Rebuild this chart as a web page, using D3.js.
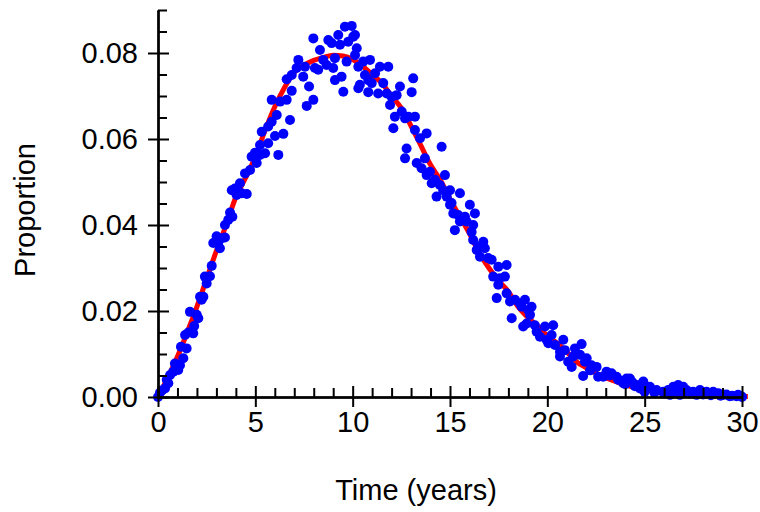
<!DOCTYPE html>
<html>
<head>
<meta charset="utf-8">
<script src="https://cdn.jsdelivr.net/npm/d3@7"></script>
<style>
  body { margin: 0; background: #fff; }
  text { font-family: "Liberation Sans", Arial, sans-serif; }
</style>
</head>
<body>
<div id="chart"></div>
<script>
// Size of the canvas and plot margins.
const WIDTH = 760;
const HEIGHT = 512;
const margin = { top: 10, right: 18, bottom: 115, left: 158 };
const FONT_SIZE = "29px";

// Tick values.
const xMajorTicks = [0, 5, 10, 15, 20, 25, 30];
const yMajorTicks = [0, 0.02, 0.04, 0.06, 0.08];

// Fitted curve: [time, proportion].
const curve = [
  [0, 0], [0.5, 0.0045], [1, 0.0094], [1.5, 0.015], [2, 0.021], [2.5, 0.0275],
  [3, 0.034], [3.5, 0.040], [4, 0.0465], [4.5, 0.051], [5, 0.0559], [5.5, 0.062],
  [6, 0.0675], [6.5, 0.072], [7, 0.0755], [7.5, 0.0772], [8, 0.0783], [8.5, 0.079],
  [9, 0.0795], [9.5, 0.0793], [10, 0.0785], [10.5, 0.077], [11, 0.075], [11.5, 0.073],
  [12, 0.070], [12.5, 0.0672], [13, 0.063], [13.5, 0.0585], [14, 0.054], [14.5, 0.0505],
  [15, 0.046], [15.5, 0.042], [16, 0.038], [16.5, 0.0335], [17, 0.030], [17.5, 0.027],
  [18, 0.0245], [18.5, 0.021], [19, 0.0185], [19.5, 0.0165], [20, 0.0142], [20.5, 0.0125],
  [21, 0.0105], [21.5, 0.0082], [22, 0.0068], [22.5, 0.0055], [23, 0.0045], [23.5, 0.0036],
  [24, 0.0028], [24.5, 0.0022], [25, 0.0017], [26, 0.0010], [27, 0.0006], [28, 0.0003],
  [29, 0.0002], [30, 0.0001], [30.3, 0.0001]
];

// Observed proportions: [time, proportion].
const observed = [
  [0, 0], [0.2, 0.0015],
  [0.10, 0.0010], [0.36, 0.0020], [0.53, 0.0032], [0.45, 0.0040], [0.62, 0.0051],
  [0.79, 0.0059], [1.04, 0.0063], [0.87, 0.0078], [1.13, 0.0074], [1.30, 0.0090],
  [1.18, 0.0117], [1.47, 0.0113], [1.39, 0.0144], [1.56, 0.0150], [1.81, 0.0148],
  [1.86, 0.0165], [1.64, 0.0198], [1.99, 0.0191], [2.07, 0.0183], [2.16, 0.0233],
  [2.33, 0.0233], [2.24, 0.0226], [2.50, 0.0264], [2.41, 0.0280], [2.67, 0.0281],
  [2.76, 0.0305], [2.84, 0.0358], [3.01, 0.0374], [3.18, 0.0346], [3.27, 0.0369],
  [3.44, 0.0371], [3.10, 0.0361], [3.44, 0.0400], [3.61, 0.0412], [3.70, 0.0429],
  [3.82, 0.0419], [3.79, 0.0481], [3.95, 0.0485], [4.12, 0.0478], [4.21, 0.0497],
  [4.30, 0.0474], [4.56, 0.0472], [4.04, 0.0470], [4.47, 0.0520], [4.73, 0.0528],
  [4.81, 0.0559], [4.98, 0.0568], [5.24, 0.0563], [5.07, 0.0544],
  [5.24, 0.0586], [5.15, 0.0567], [5.50, 0.0567], [5.66, 0.0590], [5.33, 0.0617],
  [5.66, 0.0629], [5.84, 0.0640], [6.10, 0.0656], [6.18, 0.0563], [6.01, 0.0607],
  [6.44, 0.0612], [6.78, 0.0644], [5.84, 0.0691], [6.27, 0.0687], [6.61, 0.0691],
  [6.87, 0.0712], [6.61, 0.0739], [6.87, 0.0749], [7.12, 0.0765], [7.21, 0.0784],
  [7.46, 0.0745], [7.55, 0.0768], [7.76, 0.0722], [7.64, 0.0677], [7.98, 0.0691],
  [7.98, 0.0834], [8.06, 0.0765], [8.23, 0.0761], [8.32, 0.0807], [8.49, 0.0784],
  [8.66, 0.0772], [8.75, 0.0830], [8.92, 0.0823], [9.09, 0.0788], [9.09, 0.0737],
  [9.00, 0.0765], [9.26, 0.0842], [9.35, 0.0819], [9.43, 0.0745], [9.52, 0.0710],
  [9.60, 0.0861], [9.95, 0.0863], [9.77, 0.0826], [10.03, 0.0838], [9.69, 0.0780],
  [10.12, 0.0795], [10.29, 0.0768], [10.29, 0.0718], [10.54, 0.0780],
  [10.12, 0.0842], [10.21, 0.0811], [10.89, 0.0784], [10.63, 0.0749], [10.37, 0.0726],
  [10.80, 0.0737], [11.15, 0.0753], [10.98, 0.0730], [10.80, 0.0709], [11.40, 0.0768],
  [11.83, 0.0768], [11.57, 0.0730], [11.31, 0.0706], [11.75, 0.0706], [12.00, 0.0698],
  [12.26, 0.0702], [12.43, 0.0722], [11.92, 0.0679], [13.11, 0.0741], [13.03, 0.0709],
  [12.52, 0.0664], [12.17, 0.0652], [12.09, 0.0625], [12.69, 0.0648], [12.86, 0.0652],
  [13.20, 0.0652], [13.20, 0.0621], [13.46, 0.0602], [13.80, 0.0613], [12.77, 0.0578],
  [12.69, 0.0555], [13.29, 0.0544], [13.71, 0.0555], [13.54, 0.0532], [13.97, 0.0524],
  [13.80, 0.0516], [14.57, 0.0582], [14.23, 0.0505], [14.06, 0.0497], [14.48, 0.0493],
  [14.74, 0.0516], [14.65, 0.0481], [15.00, 0.0481], [14.31, 0.0466], [14.83, 0.0466],
  [15.08, 0.0451],
  [15.51, 0.0474], [15.00, 0.0447], [15.17, 0.0427], [15.42, 0.0423], [16.02, 0.0447],
  [16.28, 0.0427], [15.77, 0.0419], [15.51, 0.0408], [15.25, 0.0388], [15.85, 0.0408],
  [16.19, 0.0400], [16.11, 0.0384], [16.19, 0.0365], [16.71, 0.0361], [16.45, 0.0350],
  [16.79, 0.0346], [16.37, 0.0342], [16.54, 0.0326], [16.96, 0.0323], [17.14, 0.0319],
  [17.48, 0.0303], [17.91, 0.0307], [17.22, 0.0280], [17.56, 0.0276], [17.82, 0.0280],
  [17.48, 0.0261], [17.40, 0.0230], [17.91, 0.0241], [18.08, 0.0222], [18.34, 0.0226],
  [18.59, 0.0218], [18.85, 0.0226], [18.68, 0.0210], [19.02, 0.0202], [19.11, 0.0191],
  [18.17, 0.0183], [18.94, 0.0171], [18.76, 0.0164], [19.36, 0.0167], [19.45, 0.0152],
  [19.62, 0.0140], [19.88, 0.0164], [19.96, 0.0133], [20.05, 0.0125],
  [19.19, 0.0210], [20.30, 0.0167], [20.22, 0.0144], [20.82, 0.0133], [20.39, 0.0121],
  [20.65, 0.0105], [20.90, 0.0109], [21.42, 0.0113], [21.76, 0.0123], [20.65, 0.0094],
  [21.07, 0.0082], [21.33, 0.0094], [21.68, 0.0098], [21.25, 0.0070], [22.02, 0.0090],
  [21.93, 0.0082], [22.27, 0.0074], [22.53, 0.0070], [21.84, 0.0049], [22.61, 0.0047],
  [23.04, 0.0059], [23.30, 0.0055], [22.87, 0.0047], [23.56, 0.0047], [23.64, 0.0040],
  [24.07, 0.0043], [23.90, 0.0032], [24.33, 0.0036], [24.59, 0.0028],
  [22.20, 0.0062], [23.20, 0.0050], [23.80, 0.0038], [24.00, 0.0030], [24.50, 0.0025],
  [24.24, 0.0043], [24.41, 0.0032], [24.93, 0.0036], [24.76, 0.0020], [25.27, 0.0024],
  [25.61, 0.0016], [25.95, 0.0012], [26.21, 0.0016], [26.47, 0.0024], [26.72, 0.0028],
  [26.98, 0.0024], [26.64, 0.0009], [27.15, 0.0016], [27.49, 0.0012], [27.84, 0.0016],
  [28.18, 0.0012], [28.52, 0.0012], [28.78, 0.0009], [29.03, 0.0005], [29.37, 0.0002],
  [29.72, 0.0002], [29.98, 0.0001], [27.67, 0.0005], [26.81, 0.0005], [26.30, 0.0005],
  [25.00, 0.0012], [25.50, 0.0010], [26.00, 0.0008], [27.30, 0.0008], [28.00, 0.0006],
  [28.40, 0.0004], [28.90, 0.0003], [29.20, 0.0006], [29.50, 0.0003], [29.80, 0.0005],
  [30.00, 0.0000]
];

// Creates the SVG element.
const svg = d3.select("#chart")
  .append("svg")
  .attr("width", WIDTH)
  .attr("height", HEIGHT);

// Scales.
const x = d3.scaleLinear()
  .domain([0, 30])
  .range([margin.left, WIDTH - margin.right]);

const y = d3.scaleLinear()
  .domain([0, 0.09])
  .range([HEIGHT - margin.bottom, margin.top]);

const xMinorTicks = d3.range(0, 31, 1).filter(v => v % 5 !== 0);
const yMinorTicks = d3.range(0, 19).map(i => +(i * 0.005).toFixed(3))
  .filter(v => !yMajorTicks.includes(v));

// Fitted curve first, points on top.
const line = d3.line()
  .x(d => x(d[0]))
  .y(d => y(d[1]))
  .curve(d3.curveMonotoneX);

svg.append("path")
  .datum(curve)
  .attr("fill", "none")
  .attr("stroke", "#ff0000")
  .attr("stroke-width", 5)
  .attr("d", line);

svg.append("g")
  .selectAll("circle")
  .data(observed)
  .enter()
  .append("circle")
  .attr("cx", d => x(d[0]))
  .attr("cy", d => y(d[1]))
  .attr("r", 5)
  .attr("fill", "#0000ff");

// Axes.
const styleAxis = g => {
  g.selectAll("path, line").attr("stroke", "#000").attr("stroke-width", 2);
  g.selectAll("text").attr("fill", "#000").style("font-size", FONT_SIZE)
    .style("font-family", '"Liberation Sans", Arial, sans-serif');
};

const y0 = HEIGHT - margin.bottom;

// X axis: major ticks with labels below, extra upward parts, minor ticks up.
svg.append("g")
  .attr("transform", `translate(0, ${y0})`)
  .call(d3.axisBottom(x).tickValues(xMajorTicks).tickSize(10).tickSizeOuter(0).tickPadding(4))
  .call(styleAxis);

svg.append("g")
  .attr("transform", `translate(0, ${y0})`)
  .call(d3.axisTop(x).tickValues(xMajorTicks).tickSize(11).tickSizeOuter(0).tickFormat(""))
  .call(styleAxis);

svg.append("g")
  .attr("transform", `translate(0, ${y0})`)
  .call(d3.axisTop(x).tickValues(xMinorTicks).tickSize(9).tickSizeOuter(0).tickFormat(""))
  .call(styleAxis);

// Y axis: major ticks with labels on the left, extra right parts, minor ticks right.
svg.append("g")
  .attr("transform", `translate(${margin.left}, 0)`)
  .call(d3.axisLeft(y).tickValues(yMajorTicks).tickSize(10).tickSizeOuter(0)
    .tickPadding(10).tickFormat(d3.format(".2f")))
  .call(styleAxis);

svg.append("g")
  .attr("transform", `translate(${margin.left}, 0)`)
  .call(d3.axisRight(y).tickValues(yMajorTicks).tickSize(11).tickSizeOuter(0).tickFormat(""))
  .call(styleAxis);

svg.append("g")
  .attr("transform", `translate(${margin.left}, 0)`)
  .call(d3.axisRight(y).tickValues(yMinorTicks).tickSize(9).tickSizeOuter(0).tickFormat(""))
  .call(styleAxis);

// Axis titles.
svg.append("text")
  .attr("x", 416)
  .attr("y", 500)
  .attr("text-anchor", "middle")
  .style("font-size", FONT_SIZE)
  .text("Time (years)");

svg.append("text")
  .attr("transform", "translate(35, 210) rotate(-90)")
  .attr("text-anchor", "middle")
  .style("font-size", FONT_SIZE)
  .text("Proportion");
</script>
</body>
</html>
